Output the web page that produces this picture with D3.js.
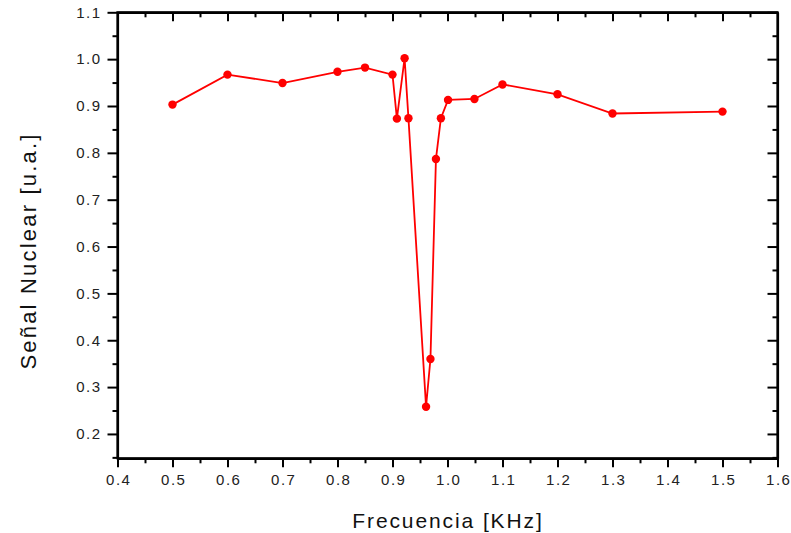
<!DOCTYPE html>
<html>
<head>
<meta charset="utf-8">
<script src="https://cdn.jsdelivr.net/npm/d3@7/dist/d3.min.js"></script>
<style>
  html, body { margin: 0; padding: 0; background: #fff; }
  svg { display: block; }
  text { font-family: "Liberation Sans", Arial, sans-serif; }
</style>
</head>
<body>
<svg id="chart" width="791" height="533"></svg>
<script>
// Data
const frecuencia = [0.5, 0.6, 0.7, 0.8, 0.85, 0.9, 0.908, 0.922, 0.929, 0.961, 0.969, 0.979, 0.988, 1.001, 1.049, 1.1, 1.2, 1.3, 1.5];
const senal      = [0.903, 0.967, 0.949, 0.973, 0.982, 0.967, 0.873, 1.002, 0.874, 0.258, 0.360, 0.787, 0.874, 0.913, 0.915, 0.946, 0.925, 0.884, 0.888];
const xTicks = [0.4, 0.5, 0.6, 0.7, 0.8, 0.9, 1.0, 1.1, 1.2, 1.3, 1.4, 1.5, 1.6];
const yTicks = [0.2, 0.3, 0.4, 0.5, 0.6, 0.7, 0.8, 0.9, 1.0, 1.1];
const xLabel = "Frecuencia [KHz]";
const yLabel = "Señal Nuclear [u.a.]";

const svg = d3.select("#chart");
const L = 117.5, R = 777.5, T = 12.3, B = 458.3;

const x = d3.scaleLinear().domain([0.4, 1.6]).range([L, R]);
const y = d3.scaleLinear().domain([0.148, 1.1]).range([B, T]);

const xMinor = d3.range(0.45, 1.6, 0.1);
const yMinor = d3.range(0.15, 1.1, 0.1);

const tickText = "#222";

// Bottom axis (outward ticks)
const gB = svg.append("g").attr("transform", `translate(0,${B})`)
  .call(d3.axisBottom(x).tickValues(xTicks).tickFormat(d3.format(".1f")).tickSize(9).tickSizeOuter(0));
gB.append("g").call(d3.axisBottom(x).tickValues(xMinor).tickFormat("").tickSize(5).tickSizeOuter(0))
  .select(".domain").remove();

// Top axis (inward ticks)
const gT = svg.append("g").attr("transform", `translate(0,${T})`)
  .call(d3.axisBottom(x).tickValues(xTicks).tickFormat("").tickSize(9).tickSizeOuter(0));
gT.append("g").call(d3.axisBottom(x).tickValues(xMinor).tickFormat("").tickSize(5).tickSizeOuter(0))
  .select(".domain").remove();

// Left axis (outward ticks)
const gL = svg.append("g").attr("transform", `translate(${L},0)`)
  .call(d3.axisLeft(y).tickValues(yTicks).tickFormat(d3.format(".1f")).tickSize(10).tickSizeOuter(0));
gL.append("g").call(d3.axisLeft(y).tickValues(yMinor).tickFormat("").tickSize(5).tickSizeOuter(0))
  .select(".domain").remove();

// Right axis (inward ticks)
const gR = svg.append("g").attr("transform", `translate(${R},0)`)
  .call(d3.axisLeft(y).tickValues(yTicks).tickFormat("").tickSize(10).tickSizeOuter(0));
gR.append("g").call(d3.axisLeft(y).tickValues(yMinor).tickFormat("").tickSize(5).tickSizeOuter(0))
  .select(".domain").remove();

[gB, gT, gL, gR].forEach(g => {
  g.selectAll(".domain").attr("stroke", "#000").attr("stroke-width", 2.2);
  g.selectAll(".tick line").attr("stroke", "#000").attr("stroke-width", 2);
  g.selectAll(".tick text").attr("fill", tickText).style("font-size", "15px").style("letter-spacing", "1.5px");
});
gB.selectAll(".tick text").attr("dy", "1.0em").attr("dx", "0.05em");
gL.selectAll(".tick text").attr("x", -16);

// Frame
svg.append("rect").attr("x", L).attr("y", T).attr("width", R - L).attr("height", B - T)
  .attr("fill", "none").attr("stroke", "#000").attr("stroke-width", 2.2);

// Line and points
const pts = frecuencia.map((f, i) => ({ f, s: senal[i] }));
svg.append("path").datum(pts)
  .attr("fill", "none").attr("stroke", "#ff0000").attr("stroke-width", 1.8)
  .attr("d", d3.line().x(d => x(d.f)).y(d => y(d.s)));
svg.append("g").selectAll("circle").data(pts).join("circle")
  .attr("cx", d => x(d.f)).attr("cy", d => y(d.s)).attr("r", 4.2)
  .attr("fill", "#ff0000");

// Axis titles
svg.append("text").attr("x", 448).attr("y", 528).attr("text-anchor", "middle")
  .style("font-size", "21px").style("letter-spacing", "1.9px").attr("fill", "#111").text(xLabel);
svg.append("text").attr("transform", "translate(36,251) rotate(-90)").attr("text-anchor", "middle")
  .style("font-size", "22px").style("letter-spacing", "2.2px").attr("fill", "#111").text(yLabel);
</script>
</body>
</html>
